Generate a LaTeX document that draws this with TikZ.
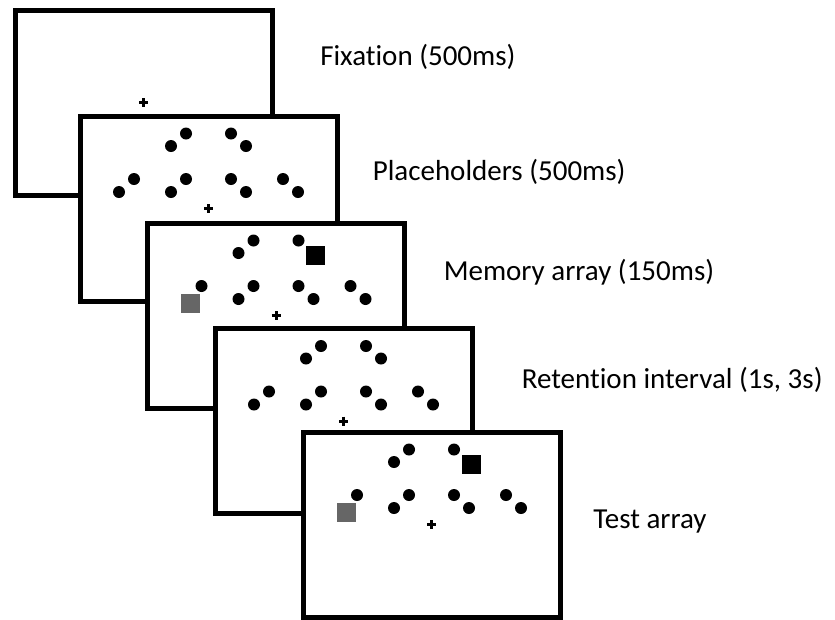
\documentclass[tikz,border=0pt]{standalone}
\usepackage{fontspec}
\setmainfont{Carlito}[Ligatures=CommonOff]

% dot positions around a screen centre (pixels)
\newcommand{\arraydots}{-37.5/-62.5, -22.5/-75, 22.5/-75,
  -74.5/-29.5, -37.5/-16.5, -22.5/-29.5, 22.5/-29.5, 37.5/-16.5, 74.5/-29.5, 89.5/-16.5}
\newcommand{\holderdots}{-37.5/-62.5, -22.5/-75, 22.5/-75, 37.5/-62.5,
  -89.5/-16.5, -74.5/-29.5, -37.5/-16.5, -22.5/-29.5, 22.5/-29.5, 37.5/-16.5, 74.5/-29.5, 89.5/-16.5}
\definecolor{probegray}{gray}{0.4}

\begin{document}
\begin{tikzpicture}[x=0.75pt, y=-0.75pt,
    screen/.style={draw, line width=3.75pt, fill=white, minimum width=192.75pt, minimum height=138.75pt, inner sep=0pt},
    phase/.style={anchor=base west, inner sep=0pt, font=\fontsize{21.75}{26}\selectfont},
    fixcross/.style={line width=2.25pt}]
	\useasboundingbox (0,0) rectangle (835,619);
	% fixation
	\node[screen](fix) at (143.5,102.5){};
	\begin{scope}[shift={(fix.center)}]
		\draw[fixcross] (-4.5,0) -- (4.5,0) (0,-4.5) -- (0,4.5);
	\end{scope}
	% placeholders
	\node[screen](hold) at (208.5,208.5){};
	\begin{scope}[shift={(hold.center)}]
		\foreach \dx/\dy in \holderdots \fill (\dx,\dy) circle[radius=4.5pt];
		\draw[fixcross] (-4.5,0) -- (4.5,0) (0,-4.5) -- (0,4.5);
	\end{scope}
	% memory array
	\node[screen](mem) at (276,315.5){};
	\begin{scope}[shift={(mem.center)}]
		\foreach \dx/\dy in \arraydots \fill (\dx,\dy) circle[radius=4.5pt];
		\fill[black] (30,-69.5) rectangle ++(19,19);
		\fill[probegray] (-95,-21.5) rectangle ++(19,19);
		\draw[fixcross] (-4.5,0) -- (4.5,0) (0,-4.5) -- (0,4.5);
	\end{scope}
	% retention interval
	\node[screen](ret) at (343.5,421){};
	\begin{scope}[shift={(ret.center)}]
		\foreach \dx/\dy in \holderdots \fill (\dx,\dy) circle[radius=4.5pt];
		\draw[fixcross] (-4.5,0) -- (4.5,0) (0,-4.5) -- (0,4.5);
	\end{scope}
	% test array
	\node[screen](test) at (431.5,524.5){};
	\begin{scope}[shift={(test.center)}]
		\foreach \dx/\dy in \arraydots \fill (\dx,\dy) circle[radius=4.5pt];
		\fill[black] (30,-69.5) rectangle ++(19,19);
		\fill[probegray] (-95,-21.5) rectangle ++(19,19);
		\draw[fixcross] (-4.5,0) -- (4.5,0) (0,-4.5) -- (0,4.5);
	\end{scope}
	% phase labels
	\node[phase](fixlabel) at (320,65){Fixation (500ms)};
	\node[phase](holdlabel) at (372.5,180){Placeholders (500ms)};
	\node[phase](memlabel) at (443.5,280){Memory array (150ms)};
	\node[phase](retlabel) at (521.5,388){Retention interval (1s, 3s)};
	\node[phase](testlabel) at (593,528){Test array};
\end{tikzpicture}
\end{document}
